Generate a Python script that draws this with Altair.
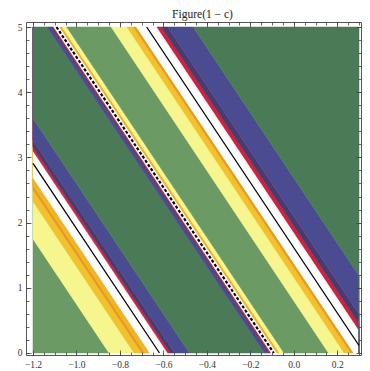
import altair as alt
import pandas as pd

# ---- data (u = x + y/5 : all contour bands are straight diagonal stripes) ----
band_lo = [-1.60, -0.850, -0.735, -0.700, -0.685, -0.662, -0.580, -0.568, -0.548, -0.480,
           -0.135, -0.118, -0.110, -0.104, -0.078, -0.066, -0.045, 0.160, 0.232, 0.262,
           0.276, 0.370, 0.390, 0.420, 0.537]
band_hi = [-0.850, -0.735, -0.700, -0.685, -0.662, -0.580, -0.568, -0.548, -0.480, -0.135,
           -0.118, -0.110, -0.104, -0.078, -0.066, -0.045, 0.160, 0.232, 0.262, 0.276,
           0.370, 0.390, 0.420, 0.537, 1.600]
band_col = ["#6b9a65", "#f6f58e", "#f2c12e", "#e89c1e", "#f0b428", "#ffffff", "#d31f3c",
            "#4a3b6c", "#4b4b91", "#4b7a57",
            "#4b4b91", "#4a3b6c", "#d31f3c", "#ffffff", "#f0b428", "#f6f58e", "#6b9a65",
            "#f6f58e", "#f2c12e", "#e89c1e", "#ffffff", "#d31f3c", "#4a3b6c", "#4b4b91",
            "#4b7a57"]
pole_u = [-0.618, -0.092, 0.323]
pole_kind = ["wavy", "jagged", "wavy"]

x_major = [-1.2, -1.0, -0.8, -0.6, -0.4, -0.2, 0.0, 0.2]
x_minor = [round(-1.2 + 0.05 * i, 2) for i in range(31)]
y_major = [0, 1, 2, 3, 4, 5]
y_minor = [round(0.2 * i, 1) for i in range(26)]

X_MIN, X_MAX, Y_MIN, Y_MAX = -1.2, 0.3, 0.0, 5.0
SLOPE = 0.2

# ---- build clipped stripe polygons ----
rows = []
for i, (lo, hi, c) in enumerate(zip(band_lo, band_hi, band_col)):
    ys = {Y_MIN, Y_MAX}
    for b in (lo, hi):
        for xe in (X_MIN, X_MAX):
            yb = (b - xe) / SLOPE
            if Y_MIN < yb < Y_MAX:
                ys.add(yb)
    for y in sorted(ys):
        xl = min(max(lo - SLOPE * y, X_MIN), X_MAX)
        xr = min(max(hi - SLOPE * y, X_MIN), X_MAX)
        rows.append(dict(band=i, col=c, y=y, xl=xl, xr=xr))
bands_df = pd.DataFrame(rows)

lrows = []
for k, (u, kind) in enumerate(zip(pole_u, pole_kind)):
    y0 = max(Y_MIN, (u - X_MAX) / SLOPE)
    y1 = min(Y_MAX, (u - X_MIN) / SLOPE)
    for y in (y0, y1):
        lrows.append(dict(pole=k, kind=kind, y=y, x=u - SLOPE * y))
lines_df = pd.DataFrame(lrows)

sx = alt.Scale(domain=[-1.2322, 0.3092], nice=False, zero=False)
sy = alt.Scale(domain=[-0.0307, 5.0767], nice=False, zero=False)

FONT = "Liberation Serif"


def ax(orient, values, size, labels=False, fmt=None, pad=4):
    kw = dict(orient=orient, values=values, tickSize=size, offset=-size, domain=False,
              grid=False, labels=labels, title=None, tickColor="#444", tickWidth=0.8,
              zindex=1, labelFont=FONT, labelFontSize=9.5, labelColor="#333",
              labelPadding=pad)
    if fmt:
        kw["format"] = fmt
    return alt.Axis(**kw)


bands = alt.Chart(bands_df).mark_area(orient="horizontal", strokeWidth=0.5).encode(
    y=alt.Y("y:Q", scale=sy, axis=ax("left", y_major, 5, True, "d", 4)),
    x=alt.X("xl:Q", scale=sx, stack=None, axis=ax("bottom", x_major, 5, True, ".1f", 4)),
    x2="xr:Q",
    color=alt.Color("col:N", scale=None),
    stroke=alt.Stroke("col:N", scale=None),
    detail="band:N",
)

wavy = alt.Chart(lines_df).transform_filter(alt.datum.kind == "wavy").mark_line(
    color="black", strokeWidth=1.3
).encode(
    x=alt.X("x:Q", scale=sx, axis=None),
    y=alt.Y("y:Q", scale=sy, axis=None),
    detail="pole:N",
)

jagged = alt.Chart(lines_df).transform_filter(alt.datum.kind == "jagged").mark_line(
    color="black", strokeWidth=2.2, strokeDash=[3, 2]
).encode(
    x=alt.X("x:Q", scale=sx, axis=None),
    y=alt.Y("y:Q", scale=sy, axis=None),
    detail="pole:N",
)

tick_df = pd.DataFrame({"x": [X_MIN], "y": [Y_MIN]})


def axis_layer(xa, ya):
    return alt.Chart(tick_df).mark_point(opacity=0).encode(
        x=alt.X("x:Q", scale=sx, axis=xa),
        y=alt.Y("y:Q", scale=sy, axis=ya),
    )


minor_bl = axis_layer(ax("bottom", x_minor, 3), ax("left", y_minor, 3))
major_tr = axis_layer(ax("top", x_major, 5), ax("right", y_major, 5))
minor_tr = axis_layer(ax("top", x_minor, 3), ax("right", y_minor, 3))

chart = alt.layer(bands, wavy, jagged, minor_bl, major_tr, minor_tr).resolve_axis(
    x="independent", y="independent"
).properties(
    width=335,
    height=333,
    title=alt.TitleParams("Figure(1 − c)", font=FONT, fontSize=11.5, fontWeight="normal",
                          color="#222", offset=5, baseline="alphabetic", dx=9, dy=13),
    autosize=alt.AutoSizeParams(type="none"),
    padding={"left": 18, "top": 14, "right": 1, "bottom": 16},
).configure_view(stroke="#555", strokeWidth=1)

chart.save("out.html", embed_options={"renderer": "svg", "actions": False})
